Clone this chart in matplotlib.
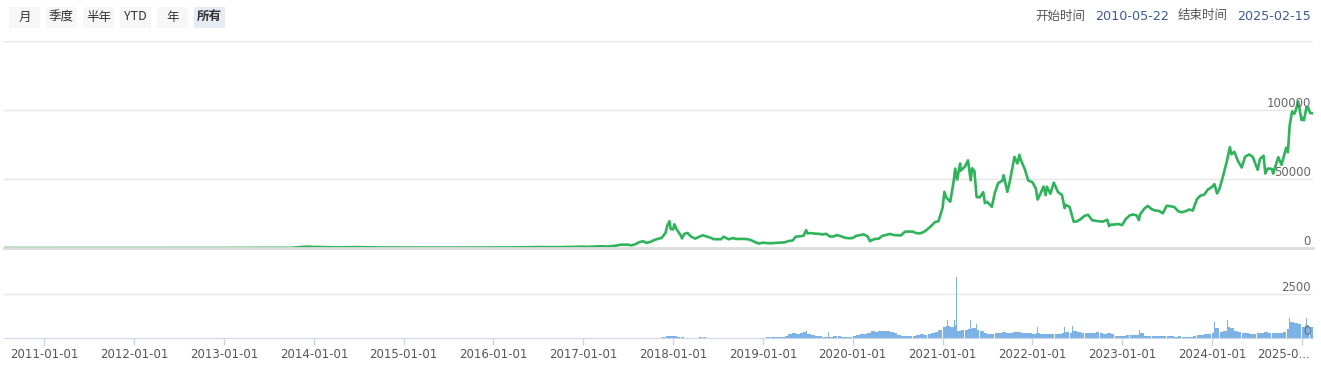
import pandas as pd
import matplotlib
matplotlib.use("Agg")
import matplotlib.pyplot as plt
import matplotlib.dates as mdates
from matplotlib.patches import Rectangle
from matplotlib.transforms import blended_transform_factory

plt.rcParams["font.family"] = ["DejaVu Sans", "Noto Sans CJK SC"]

# ---- price (USD) ----
price_dates = [
    "2010-07-21", "2010-10-01", "2011-01-01", "2011-04-01", "2011-06-08", "2011-09-01",
    "2012-01-01", "2012-06-01", "2012-09-01", "2013-01-01", "2013-04-01", "2013-07-01",
    "2013-10-01", "2013-12-01", "2014-01-01", "2014-04-01", "2014-07-01", "2014-10-01",
    "2015-01-01", "2015-04-01", "2015-07-01", "2015-11-01", "2016-01-01", "2016-04-01",
    "2016-07-01", "2016-10-01",
    "2017-01-01", "2017-01-15", "2017-02-01", "2017-02-15", "2017-03-01", "2017-03-15",
    "2017-04-01", "2017-04-15", "2017-05-01", "2017-05-15", "2017-06-01", "2017-06-15",
    "2017-07-01", "2017-07-15", "2017-08-01", "2017-08-15", "2017-09-01", "2017-09-15",
    "2017-10-01", "2017-10-15", "2017-11-01", "2017-11-15", "2017-12-01", "2017-12-08",
    "2017-12-17", "2017-12-22",
    "2018-01-01", "2018-01-06", "2018-01-15", "2018-02-01", "2018-02-06", "2018-02-15",
    "2018-03-01", "2018-03-15", "2018-04-01", "2018-04-15", "2018-05-01", "2018-05-15",
    "2018-06-01", "2018-06-15", "2018-07-01", "2018-07-15", "2018-07-25", "2018-08-01",
    "2018-08-15", "2018-09-01", "2018-09-15", "2018-10-01", "2018-10-15", "2018-11-01",
    "2018-11-15", "2018-12-01", "2018-12-15",
    "2019-01-01", "2019-01-15", "2019-02-01", "2019-02-15", "2019-03-01", "2019-03-15",
    "2019-04-01", "2019-04-15", "2019-05-01", "2019-05-15", "2019-06-01", "2019-06-15",
    "2019-06-26", "2019-07-01", "2019-07-15", "2019-08-01", "2019-08-15", "2019-09-01",
    "2019-09-15", "2019-10-01", "2019-10-15", "2019-10-26", "2019-11-01", "2019-11-15",
    "2019-12-01", "2019-12-15",
    "2020-01-01", "2020-01-15", "2020-02-01", "2020-02-15", "2020-03-01", "2020-03-12",
    "2020-03-15", "2020-04-01", "2020-04-15", "2020-05-01", "2020-05-15", "2020-06-01",
    "2020-06-15", "2020-07-01", "2020-07-15", "2020-08-01", "2020-08-15", "2020-09-01",
    "2020-09-15", "2020-10-01", "2020-10-15", "2020-11-01", "2020-11-15", "2020-12-01",
    "2020-12-15",
    "2021-01-01", "2021-01-08", "2021-01-15", "2021-02-01", "2021-02-15", "2021-02-21",
    "2021-03-01", "2021-03-13", "2021-03-15", "2021-04-01", "2021-04-14", "2021-04-25",
    "2021-05-01", "2021-05-10", "2021-05-19", "2021-06-01", "2021-06-15", "2021-06-22",
    "2021-07-01", "2021-07-20", "2021-08-01", "2021-08-15", "2021-09-01", "2021-09-06",
    "2021-09-21", "2021-10-01", "2021-10-15", "2021-10-20", "2021-11-01", "2021-11-09",
    "2021-11-15", "2021-12-01", "2021-12-15",
    "2022-01-01", "2022-01-15", "2022-01-22", "2022-02-01", "2022-02-15", "2022-02-24",
    "2022-03-01", "2022-03-15", "2022-03-29", "2022-04-15", "2022-05-01", "2022-05-12",
    "2022-05-15", "2022-06-01", "2022-06-18", "2022-07-01", "2022-07-15", "2022-08-01",
    "2022-08-15", "2022-09-01", "2022-09-15", "2022-10-01", "2022-10-15", "2022-11-01",
    "2022-11-09", "2022-11-15", "2022-12-01", "2022-12-15",
    "2023-01-01", "2023-01-15", "2023-02-01", "2023-02-15", "2023-03-01", "2023-03-10",
    "2023-03-15", "2023-04-01", "2023-04-15", "2023-05-01", "2023-05-15", "2023-06-01",
    "2023-06-15", "2023-07-01", "2023-07-15", "2023-08-01", "2023-08-17", "2023-09-01",
    "2023-09-15", "2023-10-01", "2023-10-15", "2023-11-01", "2023-11-15", "2023-12-01",
    "2023-12-15",
    "2024-01-01", "2024-01-11", "2024-01-22", "2024-02-01", "2024-02-15", "2024-03-01",
    "2024-03-14", "2024-03-20", "2024-04-01", "2024-04-15", "2024-05-01", "2024-05-15",
    "2024-06-01", "2024-06-15", "2024-07-05", "2024-07-15", "2024-07-29", "2024-08-05",
    "2024-08-15", "2024-09-01", "2024-09-06", "2024-09-15", "2024-09-27", "2024-10-10",
    "2024-10-29", "2024-11-05", "2024-11-12", "2024-11-22", "2024-12-01", "2024-12-05",
    "2024-12-17", "2024-12-30",
    "2025-01-01", "2025-01-09", "2025-01-20", "2025-01-27", "2025-02-03", "2025-02-15",
]
price_values = [
    0.09, 0.06, 0.3, 0.8, 30, 8,
    5, 5.3, 10, 13, 100, 90,
    125, 1000, 770, 450, 640, 380,
    315, 245, 260, 320, 430, 420,
    670, 610,
    1000, 820, 990, 1010, 1220, 1250,
    1080, 1180, 1420, 1730, 2400, 2450,
    2430, 1920, 2720, 4200, 4900, 3700,
    4400, 5700, 6700, 7300, 10900, 16000,
    19400, 13800,
    13400, 17200, 13600, 9100, 6900, 10200,
    10900, 8200, 6800, 8000, 9200, 8500,
    7500, 6400, 6350, 6350, 8200, 7600,
    6300, 7200, 6500, 6600, 6600, 6350,
    5600, 4200, 3250,
    3850, 3600, 3450, 3600, 3800, 3900,
    4100, 5100, 5350, 8200, 8550, 8800,
    12900, 10600, 10800, 10400, 10300, 9800,
    10300, 8300, 8300, 9250, 9200, 8500,
    7400, 7100,
    7200, 8800, 9350, 9900, 8500, 4900,
    5400, 6600, 6650, 8850, 9400, 10200,
    9450, 9230, 9130, 11800, 11900, 11900,
    10800, 10600, 11500, 13700, 15900, 18800,
    19400,
    29400, 40700, 36800, 33500, 48700, 57500,
    49600, 61200, 56000, 58900, 63500, 49000,
    57800, 55800, 37000, 36700, 40500, 32500,
    33500, 29800, 39900, 47100, 48800, 52700,
    40700, 48100, 61500, 66000, 61300, 67500,
    63700, 57200, 48900,
    47700, 43100, 35100, 38700, 44500, 38300,
    44400, 39300, 47400, 40500, 38500, 28900,
    31300, 29800, 19000, 19300, 20800, 23300,
    24100, 20100, 19700, 19300, 19100, 20500,
    15900, 16900, 17000, 17400,
    16600, 20900, 23700, 24300, 23600, 20200,
    24400, 28500, 30500, 28100, 27200, 26800,
    25100, 30600, 30300, 29700, 26600, 25900,
    26600, 27900, 27100, 35400, 37900, 38700,
    42300,
    44200, 46300, 39500, 43100, 51900, 62400,
    73100, 67900, 69700, 63400, 58300, 66200,
    67800, 66000, 56700, 64700, 66800, 54000,
    57600, 57300, 53900, 59200, 65800, 60300,
    72700, 69400, 88700, 98900, 97300, 98800,
    106100, 92800,
    94400, 92500, 102200, 101500, 97800, 97600,
]

# ---- volume, half-month levels ----
vol_dates = [
    "2017-11-15", "2017-12-01", "2017-12-15", "2018-01-01", "2018-01-15", "2018-02-01",
    "2018-02-15", "2018-04-15", "2018-05-01", "2018-11-01", "2018-11-15",
    "2019-01-15", "2019-02-01", "2019-02-15",
    "2019-03-01", "2019-03-15", "2019-04-01", "2019-04-15", "2019-05-01", "2019-05-15",
    "2019-06-01", "2019-06-15", "2019-07-01", "2019-07-15", "2019-08-01", "2019-08-15",
    "2019-09-01", "2019-09-15", "2019-10-01", "2019-10-15", "2019-11-01", "2019-11-15",
    "2019-12-01", "2019-12-15",
    "2020-01-01", "2020-01-15", "2020-02-01", "2020-02-15", "2020-03-01", "2020-03-15",
    "2020-04-01", "2020-04-15", "2020-05-01", "2020-05-15", "2020-06-01", "2020-06-15",
    "2020-07-01", "2020-07-15", "2020-08-01", "2020-08-15", "2020-09-01", "2020-09-15",
    "2020-10-01", "2020-10-15", "2020-11-01", "2020-11-15", "2020-12-01", "2020-12-15",
    "2021-01-01", "2021-01-15", "2021-02-01", "2021-02-15", "2021-03-01", "2021-03-15",
    "2021-04-01", "2021-04-15", "2021-05-01", "2021-05-15", "2021-06-01", "2021-06-15",
    "2021-07-01", "2021-07-15", "2021-08-01", "2021-08-15", "2021-09-01", "2021-09-15",
    "2021-10-01", "2021-10-15", "2021-11-01", "2021-11-15", "2021-12-01", "2021-12-15",
    "2022-01-01", "2022-01-15", "2022-02-01", "2022-02-15", "2022-03-01", "2022-03-15",
    "2022-04-01", "2022-04-15", "2022-05-01", "2022-05-15", "2022-06-01", "2022-06-15",
    "2022-07-01", "2022-07-15", "2022-08-01", "2022-08-15", "2022-09-01", "2022-09-15",
    "2022-10-01", "2022-10-15", "2022-11-01", "2022-11-15", "2022-12-01", "2022-12-15",
    "2023-01-01", "2023-01-15", "2023-02-01", "2023-02-15", "2023-03-01", "2023-03-15",
    "2023-04-01", "2023-04-15", "2023-05-01", "2023-05-15", "2023-06-01", "2023-06-15",
    "2023-07-01", "2023-07-15", "2023-08-01", "2023-08-15", "2023-09-01", "2023-09-15",
    "2023-10-01", "2023-10-15", "2023-11-01", "2023-11-15", "2023-12-01", "2023-12-15",
    "2024-01-01", "2024-01-15", "2024-02-01", "2024-02-15", "2024-03-01", "2024-03-15",
    "2024-04-01", "2024-04-15", "2024-05-01", "2024-05-15", "2024-06-01", "2024-06-15",
    "2024-07-01", "2024-07-15", "2024-08-01", "2024-08-15", "2024-09-01", "2024-09-15",
    "2024-10-01", "2024-10-15", "2024-11-01", "2024-11-15", "2024-12-01", "2024-12-15",
    "2025-01-01", "2025-01-15", "2025-02-01",
]
vol_values = [
    30, 90, 130, 100, 60, 30,
    20, 40, 30, 20, 15,
    30, 40, 45,
    40, 50, 120, 200, 260, 220,
    270, 320, 250, 180, 130, 90,
    80, 70, 80, 130, 90, 80,
    70, 80,
    120, 180, 220, 230, 300, 420,
    360, 380, 400, 390, 330, 300,
    160, 130, 110, 90, 120, 160,
    200, 180, 230, 260, 330, 450,
    600, 700, 650, 750, 420, 430,
    470, 520, 560, 480, 380, 300,
    240, 220, 280, 300, 320, 280,
    300, 350, 330, 280, 300, 260,
    220, 260, 240, 250, 230, 220,
    250, 240, 270, 330, 300, 400,
    320, 290, 300, 280, 310, 330,
    260, 240, 300, 250, 120, 110,
    120, 180, 160, 170, 190, 260,
    140, 130, 110, 100, 90, 110,
    130, 100, 80, 100, 70, 60,
    80, 100, 160, 180, 200, 220,
    300, 550, 350, 420, 600, 550,
    400, 350, 300, 260, 240, 230,
    270, 290, 330, 300, 280, 260,
    280, 320, 500, 900, 850, 800,
    600, 750, 600,
]

# single-day spikes
spike_dates = [
    "2019-06-27", "2019-09-24", "2019-10-26", "2020-03-12", "2020-03-19", "2020-05-10",
    "2020-09-03", "2020-11-26", "2020-12-21", "2021-01-11", "2021-01-21", "2021-02-07",
    "2021-02-18", "2021-02-26", "2021-04-18", "2021-04-24", "2021-05-19", "2021-09-07",
    "2022-01-21", "2022-05-12", "2022-06-13", "2022-11-09", "2023-03-13", "2024-01-11",
    "2024-02-28", "2024-03-05", "2024-08-05", "2024-11-12", "2024-11-22", "2024-12-05",
    "2024-12-19", "2025-01-20", "2025-02-03",
]
spike_values = [
    380, 360, 400, 660, 480, 420,
    300, 420, 450, 1200, 1000, 1100,
    1000, 3480, 900, 1000, 800, 640,
    620, 640, 700, 1100, 450, 900,
    850, 1000, 900, 1150, 1250, 1470,
    1250, 1150, 1100,
]

year_ticks = [f"{y}-01-01" for y in range(2011, 2025)]
price_levels = [0, 50000, 100000, 150000]
start_label, end_label = "2010-05-22", "2025-02-15"
buttons = ["月", "季度", "半年", "YTD", "年", "所有"]

W, H = 1321, 373
fig = plt.figure(figsize=(W / 100, H / 100), dpi=100)


def box(x0, y0, x1, y1):
    # pixel box (top-left origin) -> figure fraction rect
    return [x0 / W, 1 - y1 / H, (x1 - x0) / W, (y1 - y0) / H]


x_lo = pd.Timestamp("2010-07-21")
x_hi = pd.Timestamp("2025-02-15")
grid_c = "#e6e6e6"
txt_c = "#666666"
tick_c = "#555555"

# price panel
ax = fig.add_axes(box(4, 41, 1313, 248))
ax.plot(pd.to_datetime(price_dates), price_values, color="#2fb35b", lw=1.9,
        solid_joinstyle="round")
ax.set_xlim(x_lo, x_hi)
ax.set_ylim(0, 150000)
for v in price_levels[1:]:
    ax.axhline(v, color=grid_c, lw=1, zorder=0)
for s in ["top", "left", "right"]:
    ax.spines[s].set_visible(False)
ax.spines["bottom"].set_color("#dcdcdc")
ax.spines["bottom"].set_linewidth(2)
ax.set_xticks([])
ax.set_yticks([])
tr = blended_transform_factory(ax.transAxes, ax.transData)
for v in price_levels[:3]:
    ax.annotate(str(v), xy=(0.9985, v), xycoords=tr, xytext=(0, 2.5),
                textcoords="offset points", ha="right", va="baseline",
                fontsize=8.5, color=txt_c)

# volume panel
av = fig.add_axes(box(4, 250, 1313, 338))
av.bar(pd.to_datetime(vol_dates), vol_values, width=15.2, align="edge",
       color="#7cb2e6", linewidth=0)
av.bar(pd.to_datetime(spike_dates), spike_values, width=1.6,
       color="#7cb2e6", linewidth=0)
av.set_xlim(x_lo, x_hi)
av.set_ylim(0, 5000)
av.axhline(2500, color=grid_c, lw=1, zorder=0)
for s in ["top", "left", "right"]:
    av.spines[s].set_visible(False)
av.spines["bottom"].set_color("#ccd6eb")
av.set_yticks([])
tick_pos = pd.to_datetime(year_ticks + ["2025-01-01"])
av.set_xticks(tick_pos)
av.set_xticklabels(year_ticks + [""])
av.tick_params(axis="x", length=5.25, width=1, color="#ccd6eb", labelsize=8.5,
               labelcolor=tick_c, pad=1.8)
av.annotate("2025-0...", xy=(mdates.date2num(tick_pos[-1]), 0),
            xycoords=("data", "axes fraction"), xytext=(6, -7),
            textcoords="offset points", ha="right", va="top",
            fontsize=8.5, color=tick_c)
trv = blended_transform_factory(av.transAxes, av.transData)
for v in [0, 2500]:
    av.annotate(str(v), xy=(0.9985, v), xycoords=trv, xytext=(0, 2.5),
                textcoords="offset points", ha="right", va="baseline",
                fontsize=8.5, color=txt_c)

# range buttons
cjk = ["Noto Sans CJK SC", "DejaVu Sans"]
bx = 9
for lab in buttons:
    sel = lab == "所有"
    fig.patches.append(Rectangle((bx / W, 1 - 28 / H), 31 / W, 21 / H,
                                 transform=fig.transFigure,
                                 facecolor="#e6ebf5" if sel else "#f7f7f7",
                                 edgecolor="none"))
    fig.text((bx + 15.5) / W, 1 - 17 / H, lab, ha="center", va="center",
             fontsize=9, color="#333333", family=cjk,
             fontweight="bold" if sel else "normal")
    bx += 37

# date range text
fig.text(1035 / W, 1 - 16 / H, "开始时间", ha="left", va="center", fontsize=9,
         color="#555555", family=cjk)
fig.text(1095 / W, 1 - 16 / H, start_label, ha="left", va="center", fontsize=9.2,
         color="#3c5a9a")
fig.text(1178 / W, 1 - 16 / H, "结束时间", ha="left", va="center", fontsize=9,
         color="#555555", family=cjk)
fig.text(1237 / W, 1 - 16 / H, end_label, ha="left", va="center", fontsize=9.2,
         color="#3c5a9a")

fig.savefig("out.png", dpi=100, facecolor="white")
